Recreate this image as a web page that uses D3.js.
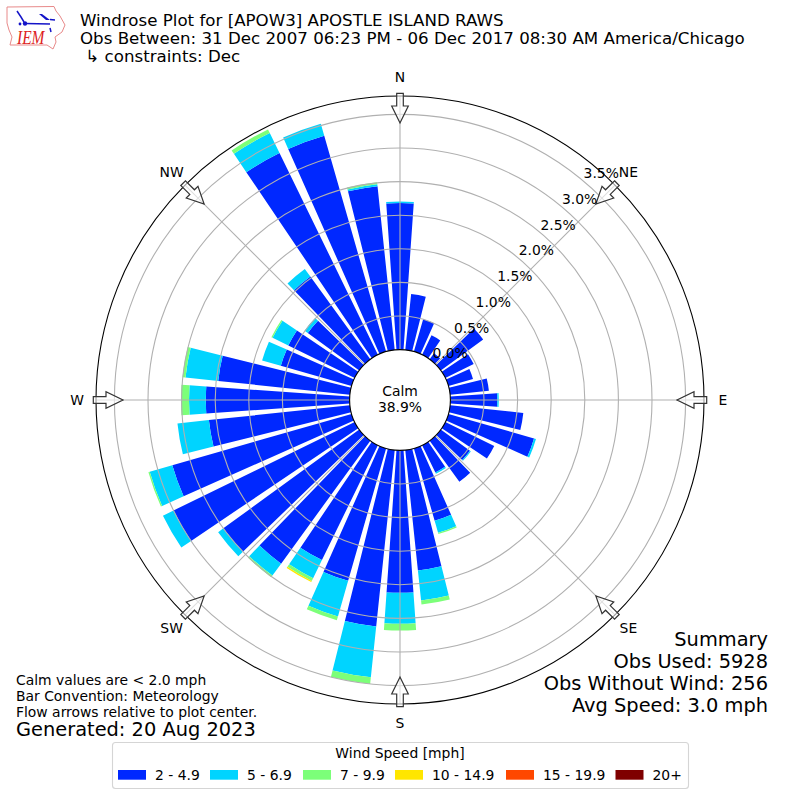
<!DOCTYPE html>
<html>
<head>
<meta charset="utf-8">
<script src="https://cdn.jsdelivr.net/npm/d3@7"></script>
<style>
    html, body { margin: 0; padding: 0; background: #fff; }
    svg { display: block; }
    text { font-family: "DejaVu Sans", sans-serif; fill: #000; }
</style>
</head>
<body>
<div id="my_dataviz"></div>
<script>
// Wind direction of each bar, degrees clockwise from north
const directions = [0, 10, 20, 30, 40, 50, 60, 70, 80, 90, 100, 110, 120, 130, 140, 150, 160, 170,
    180, 190, 200, 210, 220, 230, 240, 250, 260, 270, 280, 290, 300, 310, 320, 330, 340, 350];

// Percent of observations per speed bin, one value per direction
const speed2to5 = [2.18, 0.835, 0.50, 0.32, 0.11, 0.78, 0.47, 0.38, 0.58, 0.70, 1.095, 1.325, 0.81, 0.537, 0.753, 0.45, 1.12, 1.80,
    2.12, 2.64, 2.05, 1.90, 2.26, 2.50, 3.00, 2.775, 2.11, 2.14, 1.97, 1.095, 1.10, 0.946, 1.52, 3.34, 3.34, 2.45];
const speed5to7 = [0.025, 0, 0, 0, 0, 0, 0, 0, 0, 0.02, 0, 0.03, 0, 0.015, 0, 0.02, 0.185, 0.45,
    0.46, 0.76, 0.55, 0.30, 0.22, 0.095, 0.175, 0.35, 0.47, 0.25, 0.49, 0.29, 0.26, 0.06, 0.14, 0.33, 0.185, 0.03];
const speed7to10 = [0, 0, 0, 0, 0, 0, 0, 0, 0, 0, 0, 0, 0, 0, 0, 0, 0.02, 0.06,
    0.10, 0.10, 0.06, 0.045, 0.03, 0, 0, 0.02, 0, 0.12, 0.045, 0, 0.02, 0, 0, 0.06, 0, 0.03];
const speed10to15 = [0, 0, 0, 0, 0, 0, 0, 0, 0, 0, 0, 0, 0, 0, 0, 0, 0, 0,
    0, 0, 0, 0.02, 0, 0, 0, 0, 0, 0, 0, 0, 0, 0, 0, 0, 0, 0];

const speedBins = [speed2to5, speed5to7, speed7to10, speed10to15];
const speedLabels = ['2 - 4.9', '5 - 6.9', '7 - 9.9', '10 - 14.9', '15 - 19.9', '20+'];
const speedColors = ['#0028ff', '#00d4ff', '#7cff79', '#ffe600', '#ff4700', '#7f0000'];

const radialTicks = [0, 0.5, 1, 1.5, 2, 2.5, 3, 3.5];
const compass = [['N', 0], ['NE', 45], ['E', 90], ['SE', 135], ['S', 180], ['SW', 225], ['W', 270], ['NW', 315]];

const titleLines = ['Windrose Plot for [APOW3] APOSTLE ISLAND RAWS',
    'Obs Between: 31 Dec 2007 06:23 PM - 06 Dec 2017 08:30 AM America/Chicago',
    ' \u21b3 constraints: Dec'];
const summaryLines = ['Summary', 'Obs Used: 5928', 'Obs Without Wind: 256', 'Avg Speed: 3.0 mph'];
const noteLines = ['Calm values are < 2.0 mph', 'Bar Convention: Meteorology', 'Flow arrows relative to plot center.'];

const toRad = d => d * Math.PI / 180;
const cx = 400, cy = 400;
const rimRadius = 304;
const barWidth = 8;

const svg = d3.select('#my_dataviz').append('svg').attr('width', 800).attr('height', 800);
const plot = svg.append('g').attr('transform', `translate(${cx},${cy})`);

const r = d3.scaleLinear().domain([0, 3.5]).range([50.4, 285.6]);
const arc = d3.arc();

// stacked bars
directions.forEach((dir, i) => {
    let total = 0;
    speedBins.forEach((bin, b) => {
        if (bin[i] === 0) return;
        plot.append('path')
            .attr('d', arc({
                innerRadius: r(total),
                outerRadius: r(total + bin[i]),
                startAngle: toRad(dir - barWidth / 2),
                endAngle: toRad(dir + barWidth / 2)
            }))
            .attr('fill', speedColors[b]);
        total += bin[i];
    });
});

// grid goes over the bars
plot.selectAll('.ring')
    .data(radialTicks.slice(1))
    .join('circle')
    .attr('class', 'ring')
    .attr('r', d => r(d))
    .attr('fill', 'none')
    .attr('stroke', '#b0b0b0')
    .attr('stroke-width', 1.1);

plot.selectAll('.spoke')
    .data(compass)
    .join('line')
    .attr('class', 'spoke')
    .attr('x1', d => r(0) * Math.sin(toRad(d[1])))
    .attr('y1', d => -r(0) * Math.cos(toRad(d[1])))
    .attr('x2', d => rimRadius * Math.sin(toRad(d[1])))
    .attr('y2', d => -rimRadius * Math.cos(toRad(d[1])))
    .attr('stroke', '#b0b0b0')
    .attr('stroke-width', 1.1);

plot.append('circle').attr('r', rimRadius).attr('fill', 'none').attr('stroke', '#000').attr('stroke-width', 1.1);
plot.append('circle').attr('r', r(0)).attr('fill', '#fff').attr('stroke', '#000').attr('stroke-width', 1.1);

// flow arrows, pointing at the center
const arrowPath = 'M-3.3,-306.7 L3.3,-306.7 L3.3,-294 L8.3,-294 L0,-277 L-8.3,-294 L-3.3,-294 Z';
plot.selectAll('.arrow')
    .data(compass)
    .join('path')
    .attr('class', 'arrow')
    .attr('d', arrowPath)
    .attr('transform', d => `rotate(${d[1]})`)
    .attr('fill', '#fff')
    .attr('fill-opacity', 0.6)
    .attr('stroke', '#333')
    .attr('stroke-width', 1.2);

// direction labels
plot.selectAll('.compass')
    .data(compass)
    .join('text')
    .attr('class', 'compass')
    .attr('x', d => 323 * Math.sin(toRad(d[1])))
    .attr('y', d => -323 * Math.cos(toRad(d[1])) + 5)
    .attr('text-anchor', 'middle')
    .attr('font-size', 13.9)
    .text(d => d[0]);

// radial tick labels sit along 40 degrees
plot.selectAll('.rlabel')
    .data(radialTicks)
    .join('text')
    .attr('class', 'rlabel')
    .attr('x', d => r(d) * Math.sin(toRad(40)))
    .attr('y', d => -r(d) * Math.cos(toRad(40)) - 3)
    .attr('font-size', 13.9)
    .text(d => d.toFixed(1) + '%');

plot.append('text').attr('y', -4).attr('text-anchor', 'middle').attr('font-size', 13.9).text('Calm');
plot.append('text').attr('y', 12).attr('text-anchor', 'middle').attr('font-size', 13.9).text('38.9%');

// header
svg.selectAll('.title')
    .data(titleLines)
    .join('text')
    .attr('class', 'title')
    .attr('x', 80)
    .attr('y', (d, i) => 26 + i * 18)
    .attr('font-size', 16.67)
    .attr('xml:space', 'preserve')
    .style('white-space', 'pre')
    .text(d => d);

// footers
svg.selectAll('.note')
    .data(noteLines)
    .join('text')
    .attr('class', 'note')
    .attr('x', 16)
    .attr('y', (d, i) => 685 + i * 16)
    .attr('font-size', 13.9)
    .text(d => d);
svg.append('text').attr('x', 16).attr('y', 736).attr('font-size', 19.4).text('Generated: 20 Aug 2023');

svg.selectAll('.summary')
    .data(summaryLines)
    .join('text')
    .attr('class', 'summary')
    .attr('x', 768)
    .attr('y', (d, i) => 646 + i * 22)
    .attr('text-anchor', 'end')
    .attr('font-size', 19.4)
    .text(d => d);

// legend
const swatchX = [118, 210, 303, 395, 506, 615.5];
const legend = svg.append('g');
legend.append('rect')
    .attr('x', 112.5).attr('y', 742.5).attr('width', 576).attr('height', 46).attr('rx', 3)
    .attr('fill', '#fff').attr('stroke', '#d5d5d5').attr('stroke-width', 1.1);
legend.append('text').attr('x', 400).attr('y', 758).attr('text-anchor', 'middle').attr('font-size', 13.9).text('Wind Speed [mph]');
speedLabels.forEach((label, i) => {
    legend.append('rect').attr('x', swatchX[i]).attr('y', 770).attr('width', 28).attr('height', 9.7).attr('fill', speedColors[i]);
    legend.append('text').attr('x', swatchX[i] + 37).attr('y', 779.5).attr('font-size', 13.9).text(label);
});

// IEM logo
const logo = svg.append('g');
logo.append('path')
    .attr('d', 'M7,7 L54,6.5 L56,11 L60,16 L65,25 L62,32 L55,37 L56,42 L53,49 L47,45 L10,45 L12,37 L9,30 L7,23 Z')
    .attr('fill', 'none').attr('stroke', '#e88a8a').attr('stroke-width', 1);
logo.append('path')
    .attr('d', 'M25,23.5 L50,24 M50,19.5 L55,20 M17,11 L21,17 L24,22 M50,28 L51,32')
    .attr('fill', 'none').attr('stroke', '#1414c8').attr('stroke-width', 1.5);
logo.append('path')
    .attr('d', 'M39,14 L42,14 L50,20 L46,20 Z')
    .attr('fill', '#1414c8');
logo.append('circle').attr('cx', 25).attr('cy', 23.5).attr('r', 2.2).attr('fill', '#1414c8');
logo.append('circle').attr('cx', 20).attr('cy', 24).attr('r', 1.4).attr('fill', '#1414c8');
logo.append('text')
    .attr('x', 17).attr('y', 44)
    .attr('font-size', 18)
    .attr('font-style', 'italic')
    .attr('textLength', 27.5)
    .attr('lengthAdjust', 'spacingAndGlyphs')
    .style('font-family', '"Liberation Serif", serif')
    .style('fill', '#d22')
    .text('IEM');
</script>
</body>
</html>
